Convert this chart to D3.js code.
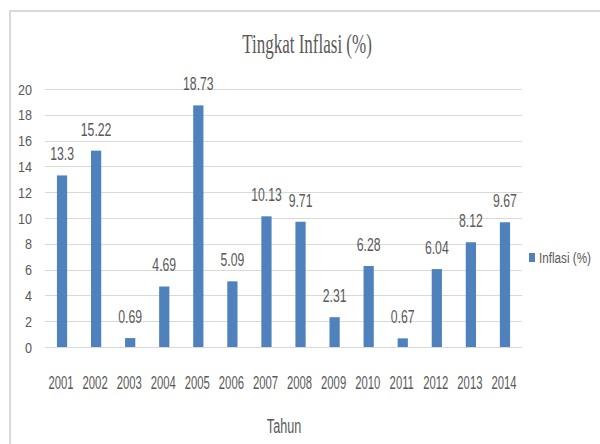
<!DOCTYPE html>
<html>
<head>
<meta charset="utf-8">
<script src="https://cdn.jsdelivr.net/npm/d3@7"></script>
<style>
html,body{margin:0;padding:0;background:#fff;}
svg{display:block;}
</style>
</head>
<body>
<script>
const years = ["2001","2002","2003","2004","2005","2006","2007","2008","2009","2010","2011","2012","2013","2014"];
const inflasi = [13.3, 15.22, 0.69, 4.69, 18.73, 5.09, 10.13, 9.71, 2.31, 6.28, 0.67, 6.04, 8.12, 9.67];
const yTicks = [0, 2, 4, 6, 8, 10, 12, 14, 16, 18, 20];
const titleText = "Tingkat Inflasi (%)";
const xTitle = "Tahun";
const seriesName = "Inflasi (%)";

const W = 600, H = 444;
const textColor = "#595959";
const barColor = "#4F81BD";
const gridColor = "#d9d9d9";

const svg = d3.select("body").append("svg").attr("width", W).attr("height", H);
svg.append("rect").attr("width", W).attr("height", H).attr("fill", "#fff");

// outer chart border
svg.append("path").attr("d", "M10,444 V11 H600").attr("fill", "none")
  .attr("stroke", gridColor).attr("stroke-width", 2);

const x = d3.scaleBand().domain(years).range([45, 522]).paddingInner(0.7).paddingOuter(0.35);
const y = d3.scaleLinear().domain([0, 20]).range([347, 89]);

function sText(g, tx, ty, str, size, sx, family, anchor) {
  return g.append("text")
    .attr("transform", `translate(${tx},${ty}) scale(${sx},1)`)
    .attr("text-anchor", anchor || "middle")
    .attr("font-family", family || "'Liberation Sans', Arial, sans-serif")
    .attr("font-size", size)
    .attr("fill", textColor)
    .text(str);
}

// grid lines
const grid = svg.append("g");
grid.selectAll("line").data(yTicks).join("line")
  .attr("x1", 45).attr("x2", 522)
  .attr("y1", d => Math.round(y(d)) + 0.5).attr("y2", d => Math.round(y(d)) + 0.5)
  .attr("stroke", gridColor).attr("stroke-width", 1);

// y tick labels
const yl = svg.append("g");
yTicks.forEach(t => sText(yl, 32, y(t) + 5.5, String(t), 15, 0.84, null, "end"));

// bars
svg.append("g").selectAll("rect").data(inflasi).join("rect")
  .attr("x", (d, i) => x(years[i]))
  .attr("width", x.bandwidth())
  .attr("y", d => y(d))
  .attr("height", d => y(0) - y(d))
  .attr("fill", barColor);

// data labels
const dl = svg.append("g");
inflasi.forEach((v, i) => sText(dl, x(years[i]) + x.bandwidth() / 2, y(v) - 15, String(v), 18, 0.68));

// x labels
const xl = svg.append("g");
years.forEach(yr => sText(xl, x(yr) + x.bandwidth() / 2 - 1, 389, yr, 18.5, 0.61));

// title
sText(svg, 307, 53, titleText, 27, 0.63, "'Liberation Serif', 'Times New Roman', serif");

// x axis title
sText(svg, 284, 433, xTitle, 21, 0.6);

// legend
svg.append("rect").attr("x", 529).attr("y", 253).attr("width", 6).attr("height", 9).attr("fill", barColor);
sText(svg, 539, 263, seriesName, 15.4, 0.76, null, "start");
</script>
</body>
</html>
